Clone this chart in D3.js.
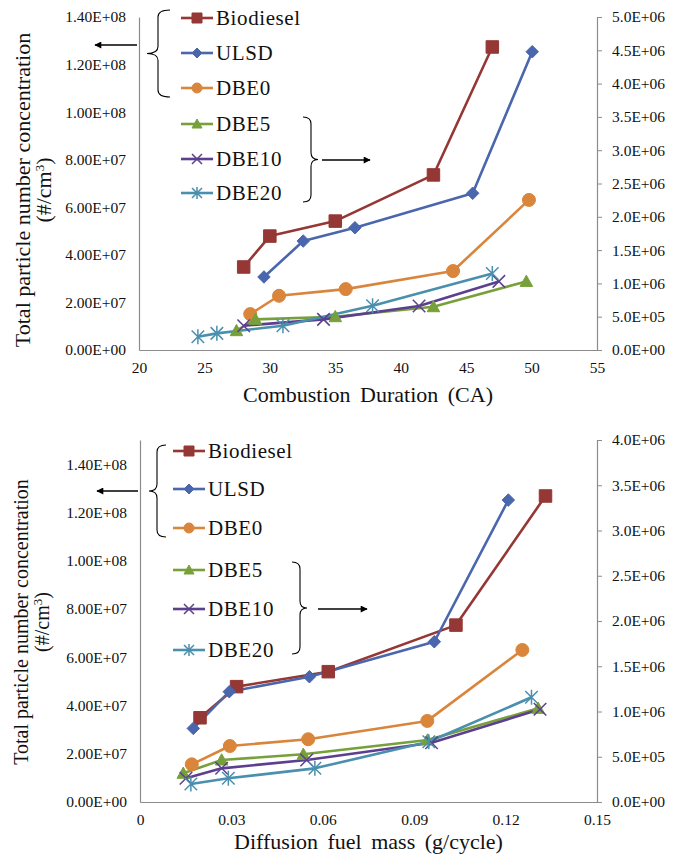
<!DOCTYPE html>
<html>
<head>
<meta charset="utf-8">
<script src="https://cdn.jsdelivr.net/npm/d3@7"></script>
<style>
  body { margin: 0; background: #fff; }
  svg text { font-family: "Liberation Serif", "Times New Roman", serif; fill: #111; }
</style>
</head>
<body>
<div id="chart"></div>
<script>
// series names and colours
var seriesNames = ["Biodiesel", "ULSD", "DBE0", "DBE5", "DBE10", "DBE20"];
var seriesColors = ["#953735", "#4a66ac", "#d9853b", "#77a03b", "#5c3f8e", "#4a8fad"];
var seriesSymbols = ["square", "diamond", "circle", "triangle", "x", "asterisk"];
// first three on the left axis, last three on the right axis
var seriesAxis = ["left", "left", "left", "right", "right", "right"];

// top panel: combustion duration (CA)
var durBiodiesel = [[28.0, 3.49e7], [30.0, 4.79e7], [35.0, 5.42e7], [42.5, 7.36e7], [47.0, 1.274e8]];
var durULSD      = [[29.55, 3.07e7], [32.55, 4.58e7], [36.5, 5.14e7], [45.5, 6.59e7], [50.05, 1.254e8]];
var durDBE0      = [[28.5, 1.51e7], [30.7, 2.28e7], [35.8, 2.56e7], [44.0, 3.32e7], [49.8, 6.31e7]];
var durDBE5      = [[27.45, 2.9e5], [28.9, 4.6e5], [35.0, 5.0e5], [42.5, 6.5e5], [49.6, 1.03e6]];
var durDBE10     = [[28.0, 3.65e5], [34.1, 4.6e5], [41.4, 6.6e5], [47.5, 1.03e6]];
var durDBE20     = [[24.5, 2.0e5], [25.95, 2.5e5], [31.0, 3.65e5], [37.85, 6.65e5], [47.0, 1.15e6]];

// bottom panel: diffusion fuel mass (g/cycle)
var massBiodiesel = [[0.0197, 3.49e7], [0.0317, 4.78e7], [0.0618, 5.4e7], [0.1037, 7.33e7], [0.1331, 1.268e8]];
var massULSD      = [[0.0175, 3.05e7], [0.0293, 4.57e7], [0.0556, 5.19e7], [0.0966, 6.64e7], [0.1209, 1.251e8]];
var massDBE0      = [[0.017, 1.56e7], [0.0295, 2.32e7], [0.0552, 2.6e7], [0.0943, 3.36e7], [0.1255, 6.3e7]];
var massDBE5      = [[0.0142, 3.17e5], [0.0268, 4.64e5], [0.0536, 5.27e5], [0.0944, 6.85e5], [0.1307, 1.035e6]];
var massDBE10     = [[0.0151, 2.62e5], [0.0268, 3.72e5], [0.0547, 4.64e5], [0.0957, 6.55e5], [0.1313, 1.024e6]];
var massDBE20     = [[0.0167, 1.99e5], [0.029, 2.62e5], [0.0574, 3.72e5], [0.0948, 6.66e5], [0.1285, 1.157e6]];

// axis ticks
var durXTicks = [20, 25, 30, 35, 40, 45, 50, 55];
var massXTicks = [0, 0.03, 0.06, 0.09, 0.12, 0.15];
var massXLabels = ["0", "0.03", "0.06", "0.09", "0.12", "0.15"];
var leftTicks = [0, 2e7, 4e7, 6e7, 8e7, 1e8, 1.2e8, 1.4e8];
var durRightTicks = [0, 5e5, 1e6, 1.5e6, 2e6, 2.5e6, 3e6, 3.5e6, 4e6, 4.5e6, 5e6];
var massRightTicks = [0, 5e5, 1e6, 1.5e6, 2e6, 2.5e6, 3e6, 3.5e6, 4e6];

var yTitle = "Total particle number concentration";

var width = 673, height = 855;
var serif = "'Liberation Serif', 'Times New Roman', serif";

var svg = d3.select("#chart").append("svg")
    .attr("width", width)
    .attr("height", height)
    .attr("font-family", serif);

svg.append("defs").append("marker")
    .attr("id", "arrow")
    .attr("viewBox", "0 0 10 10")
    .attr("refX", 9).attr("refY", 5)
    .attr("markerWidth", 9).attr("markerHeight", 7)
    .attr("markerUnits", "userSpaceOnUse")
    .attr("orient", "auto")
    .append("path")
    .attr("d", "M0,0 L10,5 L0,10 z")
    .attr("fill", "#000");

// Excel style exponent label, e.g. 1.40E+08
function expLabel(v, digits) {
    if (v === 0) return (0).toFixed(digits) + "E+00";
    var e = Math.floor(Math.log10(v) + 1e-9);
    var m = v / Math.pow(10, e);
    return m.toFixed(digits) + "E+" + (e < 10 ? "0" : "") + e;
}

function symbolPath(type, s) {
    var h = s / 2;
    if (type == "square") return "M" + (-h) + "," + (-h) + "h" + s + "v" + s + "h" + (-s) + "z";
    if (type == "diamond") return "M0," + (-h) + "L" + h + ",0L0," + h + "L" + (-h) + ",0z";
    if (type == "circle") return d3.symbol(d3.symbolCircle, Math.PI * h * h)();
    if (type == "triangle") return "M0," + (-h) + "L" + h + "," + (h * 0.8) + "L" + (-h) + "," + (h * 0.8) + "z";
    if (type == "x") return "M" + (-h) + "," + (-h) + "L" + h + "," + h + "M" + h + "," + (-h) + "L" + (-h) + "," + h;
    // asterisk
    return "M" + (-h) + "," + (-h) + "L" + h + "," + h + "M" + h + "," + (-h) + "L" + (-h) + "," + h +
        "M0," + (-h * 1.2) + "L0," + (h * 1.2);
}

function drawMarker(g, type, color, s) {
    var open = (type == "x" || type == "asterisk");
    g.append("path")
        .attr("d", symbolPath(type, s))
        .attr("fill", open ? "none" : color)
        .attr("stroke", color)
        .attr("stroke-width", open ? 1.5 : 1);
}

// curly brace from (xEnd,y0) to (xEnd,y1), tip at xTip
function bracePath(xEnd, xMid, xTip, y0, y1) {
    var ym = (y0 + y1) / 2, r = 7;
    return "M" + xEnd + "," + y0 +
        "Q" + xMid + "," + y0 + " " + xMid + "," + (y0 + r) +
        "L" + xMid + "," + (ym - r) +
        "Q" + xMid + "," + ym + " " + xTip + "," + ym +
        "Q" + xMid + "," + ym + " " + xMid + "," + (ym + r) +
        "L" + xMid + "," + (y1 - r) +
        "Q" + xMid + "," + y1 + " " + xEnd + "," + y1;
}

function drawPanel(p) {
    var x = d3.scaleLinear().domain(p.xDomain).range([p.left, p.right]);
    var yL = d3.scaleLinear().domain(p.yLeftDomain).range([p.bottom, p.top]);
    var yR = d3.scaleLinear().domain(p.yRightDomain).range([p.bottom, p.top]);

    var g = svg.append("g");

    var axisColor = "#8c8c8c";
    var leftAxis = d3.axisLeft(yL).tickValues(leftTicks).tickSize(0).tickPadding(13)
        .tickFormat(function(d) { return expLabel(d, 2); });
    g.append("g").attr("transform", "translate(" + p.left + ",0)").call(leftAxis);

    var rightAxis = d3.axisRight(yR).tickValues(p.rightTicks).tickSize(5).tickPadding(10)
        .tickFormat(function(d) { return expLabel(d, 1); });
    g.append("g").attr("transform", "translate(" + p.right + ",0)").call(rightAxis);

    var bottomAxis = d3.axisBottom(x).tickValues(p.xTicks).tickSize(0).tickPadding(12)
        .tickFormat(function(d, i) { return p.xLabels[i]; });
    g.append("g").attr("transform", "translate(0," + p.bottom + ")").call(bottomAxis);

    g.selectAll("g").attr("font-family", serif);
    g.selectAll(".domain").attr("stroke", axisColor).attr("stroke-width", 1.2);
    g.selectAll(".tick line").attr("stroke", axisColor);
    g.selectAll(".tick text")
        .attr("font-family", serif)
        .attr("font-size", "15.5px")
        .attr("fill", "#222");

    // series
    var line = d3.line();
    p.series.forEach(function(data, i) {
        var y = seriesAxis[i] == "left" ? yL : yR;
        line.x(function(d) { return x(d[0]); }).y(function(d) { return y(d[1]); });
        g.append("path")
            .datum(data)
            .attr("fill", "none")
            .attr("stroke", seriesColors[i])
            .attr("stroke-width", 2.6)
            .attr("stroke-linejoin", "round")
            .attr("d", line);
    });
    p.series.forEach(function(data, i) {
        var y = seriesAxis[i] == "left" ? yL : yR;
        var size = seriesSymbols[i] == "circle" ? 13 : 12.5;
        data.forEach(function(d) {
            var m = g.append("g").attr("transform", "translate(" + x(d[0]) + "," + y(d[1]) + ")");
            drawMarker(m, seriesSymbols[i], seriesColors[i], size);
        });
    });

    // legend
    seriesNames.forEach(function(name, i) {
        var ly = p.legendY[i];
        g.append("line")
            .attr("x1", p.legendX - 16).attr("x2", p.legendX + 16)
            .attr("y1", ly).attr("y2", ly)
            .attr("stroke", seriesColors[i]).attr("stroke-width", 2.6);
        var m = g.append("g").attr("transform", "translate(" + p.legendX + "," + ly + ")");
        drawMarker(m, seriesSymbols[i], seriesColors[i], 10);
        g.append("text")
            .attr("x", p.legendX + 19).attr("y", ly + 7)
            .attr("font-family", serif)
            .attr("font-size", "21px")
            .style("letter-spacing", "0.6px")
            .text(name);
    });

    // braces and arrows
    var b = p.braces;
    g.append("path").attr("d", bracePath(b.l.xEnd, b.l.xMid, b.l.xTip, b.l.y0, b.l.y1))
        .attr("fill", "none").attr("stroke", "#000").attr("stroke-width", 1.1);
    g.append("path").attr("d", bracePath(b.r.xEnd, b.r.xMid, b.r.xTip, b.r.y0, b.r.y1))
        .attr("fill", "none").attr("stroke", "#000").attr("stroke-width", 1.1);
    g.append("line")
        .attr("x1", b.la.x1).attr("x2", b.la.x2).attr("y1", b.la.y).attr("y2", b.la.y)
        .attr("stroke", "#000").attr("stroke-width", 1.5).attr("marker-end", "url(#arrow)");
    g.append("line")
        .attr("x1", b.ra.x1).attr("x2", b.ra.x2).attr("y1", b.ra.y).attr("y2", b.ra.y)
        .attr("stroke", "#000").attr("stroke-width", 1.5).attr("marker-end", "url(#arrow)");

    // titles
    g.append("text")
        .attr("x", (p.left + p.right) / 2).attr("y", p.xTitleY)
        .attr("text-anchor", "middle")
        .attr("font-family", serif)
        .attr("font-size", "22px")
        .style("word-spacing", "4px")
        .text(p.xTitle);

    var yt = g.append("text")
        .attr("transform", "translate(" + p.yTitleX + "," + p.yTitleY + ") rotate(-90)")
        .attr("text-anchor", "middle")
        .attr("font-family", serif)
        .attr("font-size", p.yTitleSize + "px");
    yt.append("tspan").attr("x", 0).attr("y", 0).text(yTitle);
    var t2 = yt.append("tspan").attr("x", 0).attr("y", 21).text("(#/cm");
    t2.append("tspan").attr("dy", -7).attr("font-size", "13px").text("3");
    t2.append("tspan").attr("dy", 7).text(")");
}

drawPanel({
    left: 139, right: 597, top: 17, bottom: 350,
    xDomain: [20, 55], yLeftDomain: [0, 1.4e8], yRightDomain: [0, 5e6],
    xTicks: durXTicks, xLabels: durXTicks.map(String), rightTicks: durRightTicks,
    series: [durBiodiesel, durULSD, durDBE0, durDBE5, durDBE10, durDBE20],
    legendX: 197, legendY: [18, 53, 88, 124, 159, 193],
    braces: {
        l: {xEnd: 170, xMid: 158, xTip: 147, y0: 10, y1: 97},
        r: {xEnd: 303, xMid: 311, xTip: 318, y0: 117, y1: 202},
        la: {x1: 137, x2: 95, y: 45},
        ra: {x1: 322, x2: 370, y: 160}
    },
    xTitle: "Combustion Duration (CA)", xTitleY: 402,
    yTitleX: 30, yTitleY: 190, yTitleSize: 22
});

drawPanel({
    left: 140, right: 597, top: 440, bottom: 802,
    xDomain: [0, 0.15], yLeftDomain: [0, 1.5e8], yRightDomain: [0, 4e6],
    xTicks: massXTicks, xLabels: massXLabels, rightTicks: massRightTicks,
    series: [massBiodiesel, massULSD, massDBE0, massDBE5, massDBE10, massDBE20],
    legendX: 189, legendY: [451, 489, 528, 570, 609, 650],
    braces: {
        l: {xEnd: 166, xMid: 157, xTip: 149, y0: 445, y1: 537},
        r: {xEnd: 292, xMid: 300, xTip: 307, y0: 562, y1: 654},
        la: {x1: 138, x2: 97, y: 491},
        ra: {x1: 318, x2: 367, y: 609}
    },
    xTitle: "Diffusion fuel mass (g/cycle)", xTitleY: 849,
    yTitleX: 28, yTitleY: 622, yTitleSize: 20
});
</script>
</body>
</html>
